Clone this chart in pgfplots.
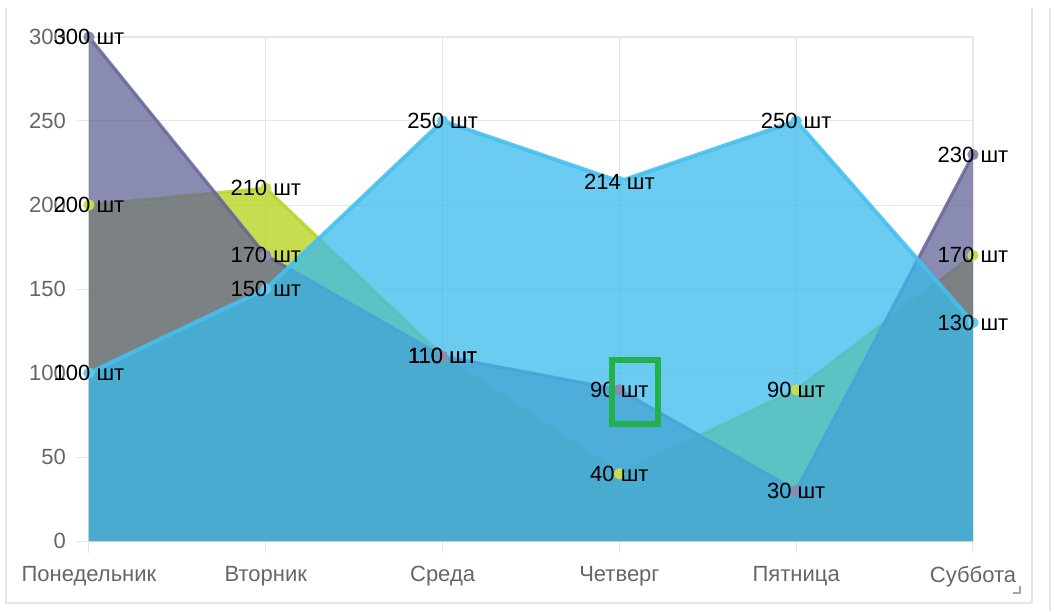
\documentclass[border=0pt]{standalone}
\usepackage{fontspec}
\setmainfont{Liberation Sans}
\usepackage{pgfplots}
\pgfplotsset{compat=1.18}

\definecolor{purpfill}{HTML}{636496}
\definecolor{purpline}{HTML}{65659A}
\definecolor{yelfill}{HTML}{B6D016}
\definecolor{yelline}{HTML}{B5D32A}
\definecolor{bluefill}{HTML}{3ABAEB}
\definecolor{blueline}{HTML}{45C0F0}
\definecolor{ticktext}{HTML}{666666}
\definecolor{gridc}{HTML}{E6E6E6}

\begin{document}
\begin{tikzpicture}
\begin{axis}[
  at={(0,0)}, anchor=south west,
  scale only axis, width=442pt, height=252pt,
  xmin=0, xmax=5, ymin=0, ymax=300,
  xtick={0,...,5},
  xticklabels={Понедельник,Вторник,Среда,Четверг,Пятница,Суббота},
  ytick={0,50,...,300},
  xtick pos=bottom, ytick pos=left,
  grid=major, grid style={color=gridc, line width=0.5pt},
  axis line style={draw=gridc},
  tick align=outside, major tick length=6pt,
  tick style={color=gridc, line width=0.5pt},
  ticklabel style={font=\fontsize{11}{13}\selectfont, text=ticktext},
  xticklabel style={yshift=-3pt},
  yticklabel style={xshift=-2pt},
  /pgf/number format/assume math mode=true,
  clip=false,
]
% areas
\addplot[draw=none, fill=yelfill, fill opacity=0.75]
  coordinates {(0,200) (1,210) (2,110) (3,40) (4,90) (5,170)} \closedcycle;
\addplot[yelline, line width=1.6pt, opacity=0.85]
  coordinates {(0,200) (1,210) (2,110) (3,40) (4,90) (5,170)};
\addplot[draw=none, fill=purpfill, fill opacity=0.75]
  coordinates {(0,300) (1,170) (2,110) (3,90) (4,30) (5,230)} \closedcycle;
\addplot[purpline, line width=1.6pt, opacity=0.85]
  coordinates {(0,300) (1,170) (2,110) (3,90) (4,30) (5,230)};
\addplot[draw=none, fill=bluefill, fill opacity=0.75]
  coordinates {(0,100) (1,150) (2,250) (3,214) (4,250) (5,130)} \closedcycle;
\addplot[blueline, line width=2pt, opacity=0.9]
  coordinates {(0,100) (1,150) (2,250) (3,214) (4,250) (5,130)};

% points and labels
\pgfplotsset{
  lbl/.style={only marks, mark=*, mark size=2.6pt,
    nodes near coords={\pgfmathprintnumber{\pgfplotspointmeta} шт},
    every node near coord/.append style={anchor=center, text=black,
      font=\fontsize{11}{13}\selectfont}}
}
\addplot[lbl, color=yelfill!75, mark options={draw=yelfill!75, fill=yelfill!75}]
  coordinates {(0,200) (1,210) (2,110) (3,40) (4,90) (5,170)};
\addplot[lbl, color=purpfill!75, mark options={draw=purpfill!75, fill=purpfill!75}]
  coordinates {(0,300) (1,170) (2,110) (3,90) (4,30) (5,230)};
\addplot[lbl, color=bluefill!80, mark options={draw=bluefill!80, fill=bluefill!80}]
  coordinates {(0,100) (1,150) (2,250) (3,214) (4,250) (5,130)};
\end{axis}
% panel frame and highlight
\draw[color=gridc, line width=0.8pt] (-41.5pt,266.5pt) -- (-41.5pt,-31pt) -- (471.5pt,-31pt) -- (471.5pt,266.5pt);
\draw[color=gridc, line width=0.8pt] (480.5pt,266.5pt) -- (480.5pt,-35pt);
\draw[color=gray!70, line width=0.7pt] (462pt,-26pt) -- (465.5pt,-26pt) -- (465.5pt,-22.5pt);
\draw[color={rgb,255:red,34;green,177;blue,76}, line width=3pt] (261.5pt,90.5pt) rectangle (284.5pt,58.5pt);
\pgfresetboundingbox
\path[use as bounding box] (-44.5pt,-35pt) rectangle (482.5pt,270.5pt);
\end{tikzpicture}
\end{document}
